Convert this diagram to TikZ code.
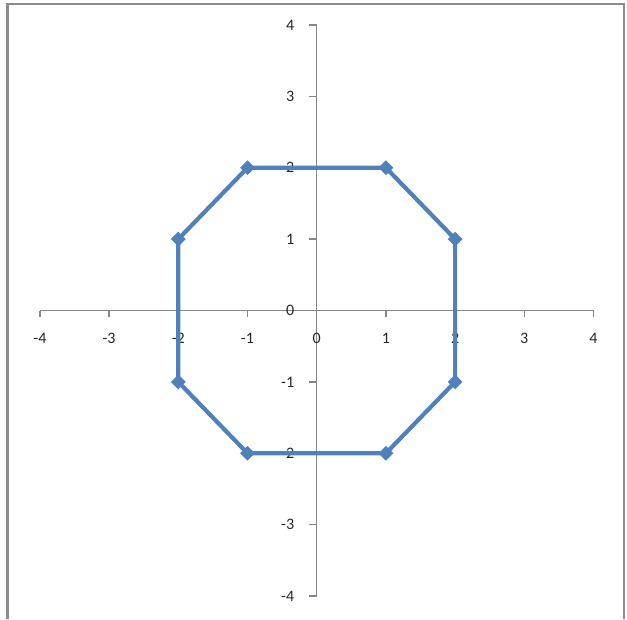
\documentclass[tikz,border=0pt]{standalone}
\usepackage{fontspec}
\setmainfont{Carlito}
\usepackage{xcolor}
\usetikzlibrary{shapes.geometric}
\definecolor{seriesblue}{RGB}{79,129,189}
\definecolor{axisgray}{RGB}{134,134,134}
\definecolor{framegray}{RGB}{140,140,140}

\begin{document}
\begin{tikzpicture}[x=69.2pt,y=71.4pt,
  axisline/.style={draw=axisgray,line width=1.5pt},
  series/.style={draw=seriesblue,line width=4.2pt,line join=round},
  diam/.style={diamond,fill=seriesblue,inner sep=0pt,minimum size=15pt},
  ticklab/.style={font=\fontsize{16}{16}\selectfont,text=black!85}]
\useasboundingbox (-316.7pt,-308.5pt) rectangle (310.3pt,310.5pt);
% chart frame
\draw[framegray,line width=2.3pt] (-309.2pt,-308.5pt) -- (-309.2pt,306.7pt) -- (307.3pt,306.7pt) -- (307.3pt,-308.5pt);
% axes
\draw[axisline] (-4,0) -- (4,0);
\draw[axisline] (0,-4) -- (0,4);
\foreach \x in {-4,...,4} {
  \draw[axisline] (\x,0) -- ++(0,-6pt);
  \node[ticklab] (xl\x) at ([yshift=-28pt]\x,0) {\x};
}
\foreach \y in {-4,...,4} {
  \draw[axisline] (0,\y) -- ++(-8pt,0);
  \node[ticklab,anchor=east] (yl\y) at ([xshift=-19pt]0,\y) {\y};
}
% octagon
\foreach \n/\x/\y in {a/-1/2, b/1/2, c/2/1, d/2/-1, e/1/-2, f/-1/-2, g/-2/-1, h/-2/1}
  \coordinate (\n) at (\x,\y);
\draw[series] (a) -- (b) -- (c) -- (d) -- (e) -- (f) -- (g) -- (h) -- cycle;
\foreach \n in {a,b,c,d,e,f,g,h}
  \node[diam] (m\n) at (\n) {};
\end{tikzpicture}
\end{document}
